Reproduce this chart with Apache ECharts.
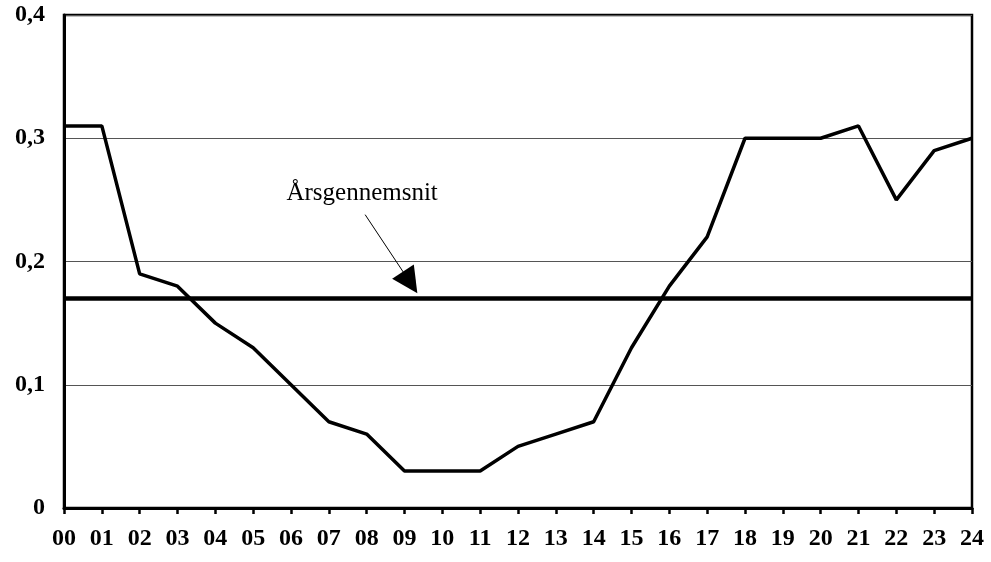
<!DOCTYPE html>
<html><head><meta charset="utf-8">
<script src="https://cdn.jsdelivr.net/npm/echarts@6/dist/echarts.min.js"></script>
<style>html,body{margin:0;padding:0;background:#fff}#c{width:991px;height:562px}</style>
</head><body><div id="c"></div>
<script>
var hours = [0,1,2,3,4,5,6,7,8,9,10,11,12,13,14,15,16,17,18,19,20,21,22,23,24];
var values = [0.31,0.31,0.19,0.18,0.15,0.13,0.10,0.07,0.06,0.03,0.03,0.03,0.05,0.06,0.07,0.13,0.18,0.22,0.30,0.30,0.30,0.31,0.25,0.29,0.30];
var average = 0.17;
var annotationText = 'Årsgennemsnit';
var arrowFrom = [7.96, 0.238];
var arrowTo = [9.15, 0.183];
var textAt = [7.88, 0.255];

var chart = echarts.init(document.getElementById('c'));
var font = 'Liberation Serif';
chart.setOption({
  animation: false,
  grid: {left: 64, right: 19, top: 15, bottom: 54, show: true, borderColor: '#000', borderWidth: 2.5},
  xAxis: {
    type: 'value', min: 0, max: 24, interval: 1,
    axisLine: {lineStyle: {color: '#000', width: 3}},
    axisTick: {show: true, length: 6, lineStyle: {color: '#000', width: 2.5}},
    splitLine: {show: false},
    axisLabel: {color: '#000', fontFamily: font, fontWeight: 'bold', fontSize: 24, margin: 19,
      formatter: function (v) { return (v < 10 ? '0' : '') + v; }}
  },
  yAxis: {
    type: 'value', min: 0, max: 0.4, interval: 0.1,
    axisLine: {show: true, lineStyle: {color: '#000', width: 3}},
    axisTick: {show: false},
    splitLine: {show: true, lineStyle: {color: '#555', width: 1}},
    axisLabel: {color: '#000', fontFamily: font, fontWeight: 'bold', fontSize: 24, margin: 19,
      formatter: function (v) { return v === 0 ? '0' : v.toFixed(1).replace('.', ','); }}
  },
  series: [{
    type: 'line',
    data: hours.map(function (h, i) { return [h, values[i]]; }),
    showSymbol: false,
    lineStyle: {color: '#000', width: 3.5},
    z: 3,
    markLine: {
      silent: true,
      animation: false,
      label: {show: false},
      data: [
        [{coord: [0, average], symbol: 'none', lineStyle: {color: '#000', width: 4.5, type: 'solid'}},
         {coord: [24, average], symbol: 'none'}],
        [{coord: arrowFrom, symbol: 'none', lineStyle: {color: '#000', width: 1, type: 'solid'}},
         {coord: arrowTo, symbol: 'triangle', symbolSize: [26, 26]}]
      ]
    },
    markPoint: {
      silent: true,
      symbol: 'circle', symbolSize: 0,
      data: [{coord: textAt, value: annotationText,
        label: {show: true, formatter: annotationText, color: '#000', fontFamily: font, fontSize: 25, position: 'inside'}}]
    }
  }]
});
</script></body></html>
